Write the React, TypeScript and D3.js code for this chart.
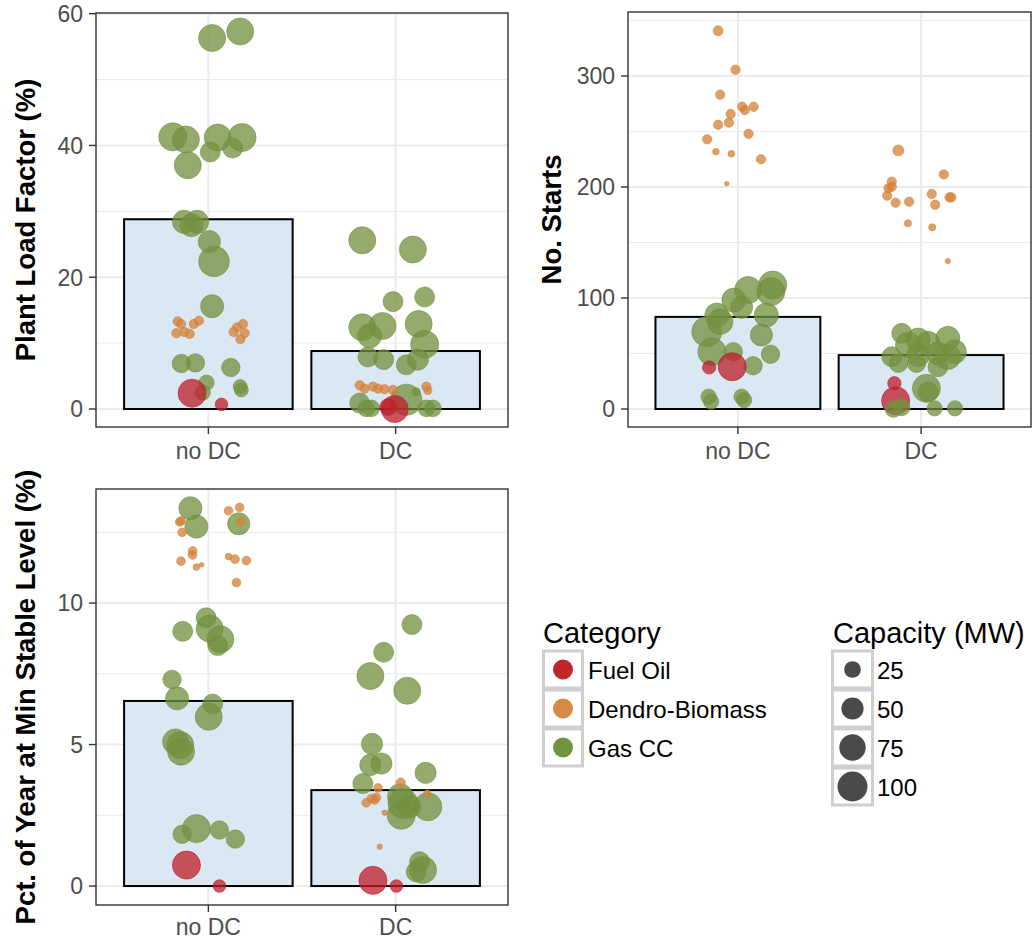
import React from "react";
import * as d3 from "d3";

// Groups, fuel categories and legend breaks
const groups = ["no DC", "DC"];
const fuels = ["Fuel Oil", "Dendro-Biomass", "Gas CC"];
const fuelColors = ["#BF1F2B", "#D4823A", "#72913F"];
const legendColors = ["#C0272D", "#D68A45", "#6F953F"];
const capacityBreaks = [25, 50, 75, 100];

// Group means (bar heights)
const plfMeans = [28.8, 8.8];
const startsMeans = [83, 48.6];
const minStableMeans = [6.54, 3.39];

// Axis ticks
const plfTicks = [0, 20, 40, 60];
const plfMinor = [10, 30, 50];
const startsTicks = [0, 100, 200, 300];
const startsMinor = [50, 150, 250, 350];
const minStableTicks = [0, 5, 10];
const minStableMinor = [2.5, 7.5, 12.5];

// Plants: [group index, fuel, value, capacity MW, jitter (fraction of category step)]
type Plant = [number, string, number, number, number];
const G = "Gas CC";
const D = "Dendro-Biomass";
const F = "Fuel Oil";

const plfPlants: Plant[] = [
  [0, G, 56.3, 79, 0.02], [0, G, 57.3, 79, 0.17], [0, G, 41.3, 86, -0.19], [0, G, 40.9, 79, -0.12],
  [0, G, 41.2, 79, 0.05], [0, G, 41.2, 86, 0.18], [0, G, 39.0, 39, 0.01], [0, G, 39.6, 39, 0.13],
  [0, G, 37.0, 79, -0.11], [0, G, 28.4, 55, -0.13], [0, G, 28.4, 55, -0.06], [0, G, 27.9, 55, -0.09],
  [0, G, 25.4, 50, 0.005], [0, G, 22.4, 105, 0.03], [0, G, 15.6, 55, 0.02], [0, G, 6.9, 32, -0.144],
  [0, G, 7.0, 32, -0.069], [0, G, 6.3, 32, 0.12], [0, G, 4.0, 20, -0.01], [0, G, 2.5, 20, -0.03],
  [0, G, 3.4, 16, 0.17], [0, G, 2.9, 16, 0.176],
  [0, D, 13.3, 5, -0.164], [0, D, 12.9, 5, -0.146], [0, D, 11.5, 5, -0.171], [0, D, 11.7, 5, -0.128],
  [0, D, 11.4, 5, -0.1], [0, D, 12.9, 5, -0.078], [0, D, 13.4, 5, -0.05], [0, D, 12.4, 5, 0.153],
  [0, D, 12.9, 5, 0.185], [0, D, 11.7, 5, 0.135], [0, D, 11.5, 5, 0.194], [0, D, 10.6, 5, 0.171],
  [0, F, 2.4, 86, -0.087], [0, F, 0.7, 12, 0.07],
  [1, G, 25.6, 79, -0.178], [1, G, 24.2, 79, 0.092], [1, G, 16.3, 39, -0.014], [1, G, 17.0, 39, 0.155],
  [1, G, 12.4, 79, -0.178], [1, G, 12.6, 79, -0.07], [1, G, 12.9, 79, 0.123], [1, G, 11.1, 60, -0.139],
  [1, G, 9.8, 86, 0.155], [1, G, 7.9, 39, -0.148], [1, G, 7.5, 39, -0.064], [1, G, 7.5, 45, 0.119],
  [1, G, 6.7, 39, 0.057], [1, G, 1.4, 110, 0.057], [1, G, 0.9, 39, -0.192], [1, G, 0.1, 25, -0.157],
  [1, G, 0.1, 25, -0.13], [1, G, 0.1, 25, 0.164], [1, G, 0.1, 25, 0.199], [1, G, 2.6, 3, 0.11],
  [1, D, 3.6, 5, -0.192], [1, D, 3.1, 5, -0.166], [1, D, 3.4, 5, -0.121], [1, D, 3.1, 5, -0.094],
  [1, D, 3.0, 5, -0.059], [1, D, 2.9, 5, -0.014], [1, D, 3.4, 5, 0.164], [1, D, 2.8, 3, 0.172],
  [1, F, 0, 79, -0.005], [1, F, 0.3, 25, -0.04],
];

const startsPlants: Plant[] = [
  [0, G, 111.7, 86, 0.19], [0, G, 105.7, 86, 0.18], [0, G, 107.2, 79, 0.056], [0, G, 98.2, 60, -0.022],
  [0, G, 91.6, 50, 0.02], [0, G, 84.7, 60, 0.155], [0, G, 84.7, 60, -0.115], [0, G, 78.7, 70, -0.097],
  [0, G, 69.7, 100, -0.17], [0, G, 66.7, 50, 0.128], [0, G, 51.6, 86, -0.142], [0, G, 51.6, 32, -0.025],
  [0, G, 49.3, 32, 0.178], [0, G, 39.0, 32, 0.083], [0, G, 11.1, 20, -0.16], [0, G, 6.6, 20, -0.146],
  [0, G, 11.1, 20, 0.02], [0, G, 8.1, 20, 0.034],
  [0, D, 340.8, 6, -0.108], [0, D, 305.7, 5, -0.013], [0, D, 283.2, 5, -0.097], [0, D, 272.3, 5, 0.023],
  [0, D, 269.4, 5, 0.038], [0, D, 272.3, 5, 0.086], [0, D, 265.8, 5, -0.04], [0, D, 256.1, 5, -0.108],
  [0, D, 258, 5, -0.049], [0, D, 248, 5, 0.058], [0, D, 243, 5, -0.168], [0, D, 231.8, 1.5, -0.12],
  [0, D, 230, 1.5, -0.036], [0, D, 225, 5, 0.126], [0, D, 203, 0.2, -0.061],
  [0, F, 37.5, 14, -0.157], [0, F, 38.1, 86, -0.031],
  [1, G, 68.2, 39, -0.106], [1, G, 62.2, 60, -0.016], [1, G, 63.7, 60, 0.146], [1, G, 57.7, 70, -0.07],
  [1, G, 59.2, 60, 0.038], [1, G, 51.6, 60, 0.182], [1, G, 47.1, 39, -0.16], [1, G, 48.6, 55, -0.016],
  [1, G, 50.2, 55, 0.092], [1, G, 41.2, 32, -0.124], [1, G, 41.2, 32, -0.025], [1, G, 38.1, 39, 0.092],
  [1, G, 47.1, 70, 0.146], [1, G, 18.6, 86, 0.029], [1, G, 15.6, 39, 0.038],
  [1, D, 233, 8, -0.124], [1, D, 211.4, 5, 0.124], [1, D, 204.8, 5, -0.16], [1, D, 198.8, 5, -0.178],
  [1, D, 200.3, 5, -0.16], [1, D, 192.2, 5, -0.185], [1, D, 185.9, 5, -0.139], [1, D, 186.8, 5, -0.065],
  [1, D, 193.7, 5, 0.058], [1, D, 184, 5, 0.077], [1, D, 190.7, 5, 0.155], [1, D, 190.7, 5, 0.165],
  [1, D, 167.3, 2, -0.072], [1, D, 163.7, 2, 0.061], [1, D, 133.3, 0.5, 0.146],
  [1, F, 23.2, 14, -0.146], [1, F, 7.5, 86, -0.139],
  [1, G, 0, 25, -0.151], [1, G, 1.5, 25, -0.106], [1, G, 0.6, 20, 0.074], [1, G, 0.6, 20, 0.185],
];

const minStablePlants: Plant[] = [
  [0, G, 13.35, 55, -0.096], [0, G, 12.7, 55, -0.064], [0, G, 12.8, 50, 0.162], [0, G, 9.48, 39, -0.012],
  [0, G, 9.1, 79, 0.007], [0, G, 9.0, 39, -0.137], [0, G, 8.72, 79, 0.064], [0, G, 8.5, 39, 0.05],
  [0, G, 7.3, 32, -0.194], [0, G, 6.63, 55, -0.167], [0, G, 6.43, 39, 0.023], [0, G, 5.98, 79, 0.002],
  [0, G, 5.1, 70, -0.176], [0, G, 4.98, 79, -0.15], [0, G, 4.75, 79, -0.146], [0, G, 2.03, 86, -0.064],
  [0, G, 1.83, 32, -0.14], [0, G, 1.98, 32, 0.059], [0, G, 1.66, 32, 0.144],
  [0, D, 12.9, 4, -0.146], [0, D, 12.87, 4, -0.153], [0, D, 12.5, 4, -0.14], [0, D, 13.26, 4, 0.108],
  [0, D, 13.38, 4, 0.167], [0, D, 12.87, 4, 0.171], [0, D, 11.84, 4, -0.084], [0, D, 11.7, 4, -0.085],
  [0, D, 11.48, 4, -0.146], [0, D, 11.27, 1.5, -0.064], [0, D, 11.35, 0.2, -0.036], [0, D, 11.64, 1.5, 0.108],
  [0, D, 11.55, 4, 0.142], [0, D, 11.5, 4, 0.203], [0, D, 10.72, 4, 0.15],
  [0, F, 0.74, 86, -0.117], [0, F, 0, 12, 0.059],
  [1, G, 9.24, 39, 0.087], [1, G, 8.26, 39, -0.064], [1, G, 7.42, 79, -0.135], [1, G, 6.9, 79, 0.062],
  [1, G, 5.02, 45, -0.126], [1, G, 4.28, 45, -0.135], [1, G, 4.33, 45, -0.076], [1, G, 4.0, 45, 0.16],
  [1, G, 3.62, 39, -0.175], [1, G, 2.92, 100, 0.039], [1, G, 3.16, 70, 0.025], [1, G, 2.8, 86, 0.172],
  [1, G, 2.5, 86, 0.03], [1, G, 2.8, 50, 0.075], [1, G, 0.86, 39, 0.128], [1, G, 0.57, 79, 0.146],
  [1, G, 0.5, 39, 0.11],
  [1, D, 3.47, 4, -0.094], [1, D, 3.65, 5, 0.027], [1, D, 3.27, 2, 0.169], [1, D, 2.94, 4, -0.157],
  [1, D, 3.09, 4, -0.13], [1, D, 3.13, 4, -0.103], [1, D, 3.04, 4, -0.112], [1, D, 2.59, 0.5, -0.059],
  [1, D, 1.39, 0.5, -0.085],
  [1, F, 0.2, 86, -0.121], [1, F, 0, 12, 0.004],
];

const FONT = '"Liberation Sans", Arial, Helvetica, sans-serif';
const GRID = "#EBEBEB";
const BORDER = "#333333";
const BAR_FILL = "#DAE8F4";

// Capacity -> point diameter (area-style sqrt scale)
const sizeScale = d3.scaleSqrt().domain([0, 100]).range([3.4, 30]);
const colorScale = d3.scaleOrdinal<string, string>().domain(fuels).range(fuelColors);
const legendColorScale = d3.scaleOrdinal<string, string>().domain(fuels).range(legendColors);

type Box = { left: number; right: number; top: number; bottom: number };

function Panel({
  id, box, yDomain, ticks, minor, means, plants, title, titleX, labelOffset,
}: {
  id: string; box: Box; yDomain: [number, number]; ticks: number[]; minor: number[];
  means: number[]; plants: Plant[]; title: string; titleX: number; labelOffset: number;
}) {
  const x = d3.scaleBand<string>().domain(groups).range([box.left, box.right])
    .paddingInner(0.1).paddingOuter(0.15);
  const y = d3.scaleLinear().domain(yDomain).range([box.bottom, box.top]);
  const step = x.step();
  const bw = x.bandwidth();
  const center = (g: string) => (x(g) as number) + bw / 2;
  const midY = (box.top + box.bottom) / 2;

  return (
    <g>
      <defs>
        <clipPath id={`clip-${id}`}>
          <rect x={box.left} y={box.top} width={box.right - box.left} height={box.bottom - box.top} />
        </clipPath>
      </defs>
      <rect x={box.left} y={box.top} width={box.right - box.left} height={box.bottom - box.top} fill="#fff" />
      {minor.map((t) => (
        <line key={`m${t}`} x1={box.left} x2={box.right} y1={y(t)} y2={y(t)} stroke={GRID} strokeWidth={1} />
      ))}
      {ticks.map((t) => (
        <line key={`M${t}`} x1={box.left} x2={box.right} y1={y(t)} y2={y(t)} stroke={GRID} strokeWidth={2} />
      ))}
      {groups.map((g) => (
        <line key={`v${g}`} x1={center(g)} x2={center(g)} y1={box.top} y2={box.bottom} stroke={GRID} strokeWidth={2} />
      ))}
      <g clipPath={`url(#clip-${id})`}>
        {groups.map((g, i) => (
          <rect key={`b${g}`} x={x(g)} y={y(means[i])} width={bw} height={y(0) - y(means[i])}
            fill={BAR_FILL} stroke="#000" strokeWidth={2} />
        ))}
        {plants.map(([gi, fuel, v, cap, jit], k) => {
          const col = colorScale(fuel);
          return (
            <circle key={k} cx={center(groups[gi]) + jit * step} cy={y(v)} r={sizeScale(cap) / 2}
              fill={col} fillOpacity={0.76} stroke={col} strokeOpacity={0.76} strokeWidth={0.8} />
          );
        })}
      </g>
      <rect x={box.left} y={box.top} width={box.right - box.left} height={box.bottom - box.top}
        fill="none" stroke={BORDER} strokeWidth={1.4} />
      {ticks.map((t) => (
        <g key={`t${t}`}>
          <line x1={box.left - 7} x2={box.left} y1={y(t)} y2={y(t)} stroke={BORDER} strokeWidth={1.4} />
          <text x={box.left - 13} y={y(t)} dy="0.36em" textAnchor="end" fontFamily={FONT} fontSize={23} fill="#4D4D4D">
            {t}
          </text>
        </g>
      ))}
      {groups.map((g) => (
        <g key={`xt${g}`}>
          <line x1={center(g)} x2={center(g)} y1={box.bottom} y2={box.bottom + 7} stroke={BORDER} strokeWidth={1.4} />
          <text x={center(g)} y={box.bottom + labelOffset} textAnchor="middle" fontFamily={FONT} fontSize={23} fill="#4D4D4D">
            {g}
          </text>
        </g>
      ))}
      <text transform={`translate(${titleX},${midY}) rotate(-90)`} textAnchor="middle" fontFamily={FONT}
        fontSize={27.5} fontWeight="bold" fill="#000">
        {title}
      </text>
    </g>
  );
}

function Legends() {
  const rowH = 39;
  const top = 650;
  return (
    <g fontFamily={FONT}>
      <text x={543} y={643} fontSize={29} fill="#000">Category</text>
      {fuels.map((f, i) => (
        <g key={f}>
          <rect x={543.5} y={top + i * rowH + 1} width={39} height={rowH - 2} fill="#fff" stroke="#CFCFCF" strokeWidth={3} />
          <circle cx={563} cy={top + i * rowH + rowH / 2} r={10} fill={legendColorScale(f)} />
          <text x={588} y={top + i * rowH + rowH / 2 + 9} fontSize={24} fill="#000">{f}</text>
        </g>
      ))}
      <text x={833} y={643} fontSize={29} fill="#000">Capacity (MW)</text>
      {capacityBreaks.map((c, i) => (
        <g key={c}>
          <rect x={832.5} y={top + i * rowH + 1} width={40} height={rowH - 2} fill="#fff" stroke="#CFCFCF" strokeWidth={3} />
          <circle cx={852.5} cy={top + i * rowH + rowH / 2} r={sizeScale(c) / 2} fill="#4A4A4A" />
          <text x={877} y={top + i * rowH + rowH / 2 + 9} fontSize={24} fill="#000">{c}</text>
        </g>
      ))}
    </g>
  );
}

export default function App() {
  return (
    <svg width={1032} height={940} style={{ position: "absolute", left: 0, top: 0, background: "#fff" }}>
      <rect width={1032} height={940} fill="#fff" />
      <Panel id="plf" box={{ left: 96, right: 508, top: 13, bottom: 427 }} yDomain={[-2.73, 60.1]}
        ticks={plfTicks} minor={plfMinor} means={plfMeans} plants={plfPlants}
        title="Plant Load Factor (%)" titleX={34.5} labelOffset={32} />
      <Panel id="starts" box={{ left: 628, right: 1031, top: 12, bottom: 427 }} yDomain={[-16.2, 357.7]}
        ticks={startsTicks} minor={startsMinor} means={startsMeans} plants={startsPlants}
        title="No. Starts" titleX={561} labelOffset={32} />
      <Panel id="minstable" box={{ left: 96, right: 508, top: 489, bottom: 905 }} yDomain={[-0.67, 14.03]}
        ticks={minStableTicks} minor={minStableMinor} means={minStableMeans} plants={minStablePlants}
        title="Pct. of Year at Min Stable Level (%)" titleX={34.5} labelOffset={30} />
      <Legends />
    </svg>
  );
}
